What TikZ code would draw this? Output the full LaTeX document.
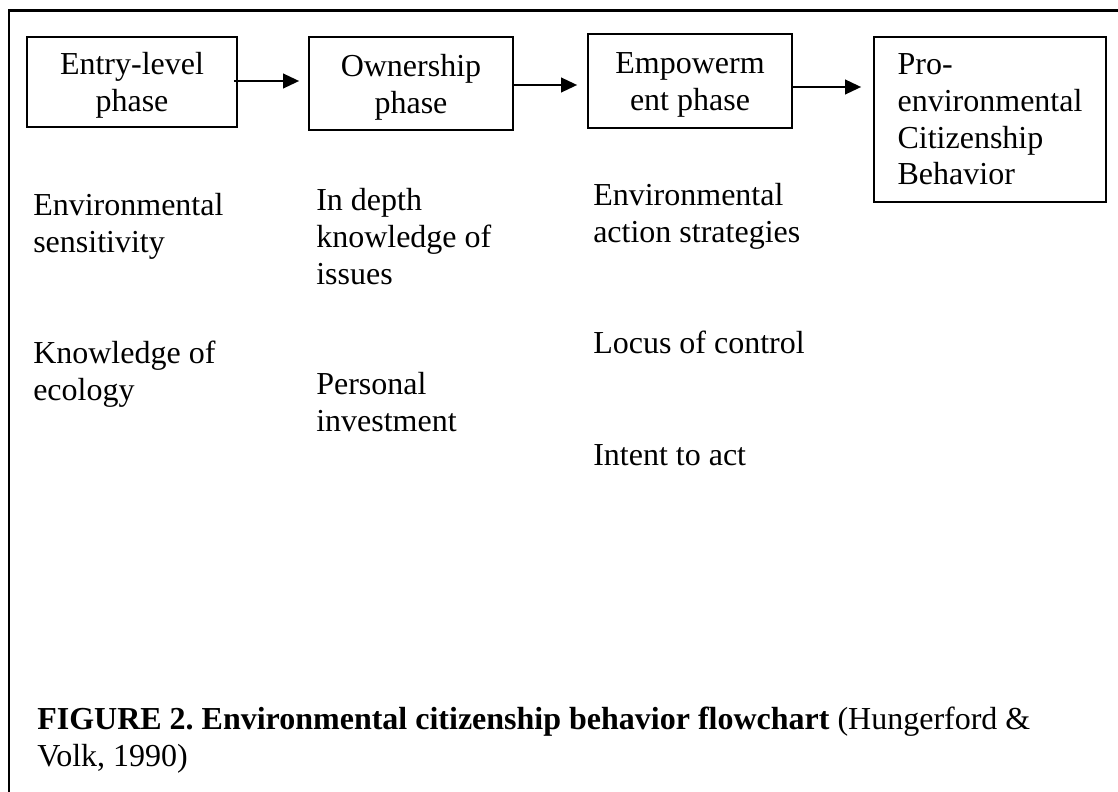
\documentclass[tikz,border=0pt]{standalone}
\usepackage{fontspec}
\setmainfont{Liberation Serif}
\usetikzlibrary{arrows.meta,calc}
\frenchspacing
\newcommand{\topstrut}{\rule{0pt}{22pt}}
\begin{document}
\begin{tikzpicture}[x=0.75pt,y=-0.75pt,
  every node/.style={font=\fontsize{24}{27.5}\selectfont},
  phasebox/.style={draw,line width=1.3pt,inner sep=0pt,align=center},
  plain/.style={inner sep=0pt,anchor=base west,align=left},
  arr/.style={line width=1.4pt,-{Triangle[length=12pt,width=11pt]}},
  frame/.style={line width=1.6pt}]
\useasboundingbox (0,0) rectangle (1118,792);
\draw[frame] (9,792) -- (9,10.5) -- (1118,10.5);
% phase boxes
\node[phasebox,minimum width=157.5pt,minimum height=67.5pt] (b1) at (132,82) {\topstrut Entry-level\\phase};
\node[phasebox,minimum width=153pt,minimum height=69.75pt] (b2) at (411,83.5) {\topstrut Ownership\\phase};
\node[phasebox,minimum width=153pt,minimum height=70.5pt] (b3) at (690,81) {\topstrut Empowerm\\ent phase};
\node[phasebox,minimum width=174pt,minimum height=123.75pt,align=left] (b4) at (990,119.5) {Pro-\\environmental\\Citizenship\\Behavior};
% arrows
\draw[arr] ($(b1.east)+(-4,-1)$) -- ($(b1.east -| b2.west)+(-9,-1)$);
\draw[arr] ($(b2.east)+(0,1.5)$) -- ($(b2.east -| b3.west)+(-10,1.5)$);
\draw[arr] ($(b3.east)+(0,6)$) -- ($(b3.east -| b4.west)+(-12,6)$);
% column texts (base = baseline of last line)
\node[plain] (c1a) at (33,252) {Environmental\\sensitivity};
\node[plain] (c1b) at (33,400) {Knowledge of\\ecology};
\node[plain] (c2a) at (316,284) {In depth\\knowledge of\\issues};
\node[plain] (c2b) at (316,431) {Personal\\investment};
\node[plain] (c3a) at (593,242) {Environmental\\action strategies};
\node[plain] (c3b) at (593,353) {Locus of control};
\node[plain] (c3c) at (593,465) {Intent to act};
% caption
\node[plain] (cap) at (37,766) {\textbf{FIGURE 2. Environmental citizenship behavior flowchart} (Hungerford \&\\Volk, 1990)};
\end{tikzpicture}
\end{document}
